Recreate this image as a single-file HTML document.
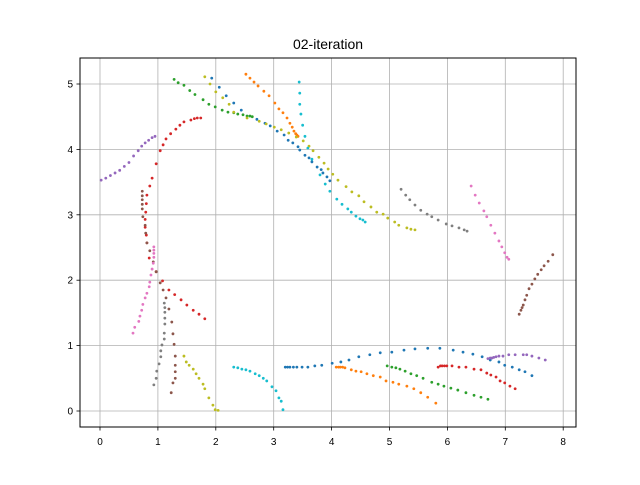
<!DOCTYPE html>
<html><head><meta charset="utf-8"><style>
body{margin:0;background:#fff;}
svg text{font-family:"Liberation Sans","DejaVu Sans",sans-serif;}
</style></head><body>
<svg id="chart" width="640" height="480" xmlns="http://www.w3.org/2000/svg">
<rect width="640" height="480" fill="#fff"/>
<text x="328" y="49" font-size="14" text-anchor="middle">02-iteration</text>
<g id="grid"></g>
<g id="marks"></g>
<rect x="80" y="58" width="496" height="369" fill="none" stroke="#000" stroke-width="1"/>
<g id="ticks"></g>
</svg>
<script>
const xTicks=[0,1,2,3,4,5,6,7,8];
const yTicks=[0,1,2,3,4,5];
const colors=["#1f77b4","#ff7f0e","#2ca02c","#d62728","#9467bd","#8c564b","#e377c2","#7f7f7f","#bcbd22","#17becf"];
const tPurpleTop=[[0.02,3.53],[0.1,3.56],[0.18,3.6],[0.26,3.64],[0.34,3.68],[0.42,3.74],[0.5,3.8],[0.58,3.9],[0.66,3.98],[0.72,4.05],[0.78,4.1],[0.84,4.14],[0.9,4.18],[0.95,4.2]];
const tRedArc=[[1.81,1.41],[1.71,1.48],[1.61,1.54],[1.50,1.62],[1.40,1.70],[1.29,1.78],[1.19,1.85],[1.08,1.99],[0.97,2.13],[0.85,2.34],[0.81,2.57],[0.80,2.69],[0.78,2.81],[0.78,2.93],[0.79,3.04],[0.80,3.17],[0.81,3.30],[0.86,3.44],[0.90,3.56],[0.97,3.78],[1.04,3.98],[1.09,4.07],[1.14,4.16],[1.22,4.24],[1.31,4.31],[1.38,4.37],[1.45,4.42],[1.57,4.45],[1.63,4.47],[1.68,4.48],[1.74,4.48]];
const tBrownLeft=[[0.73,3.36],[0.73,3.29],[0.73,3.23],[0.73,3.16],[0.73,3.09],[0.74,2.97],[0.78,2.84],[0.79,2.72],[0.81,2.57],[0.86,2.45],[0.92,2.28],[0.97,2.13],[1.04,1.96],[1.09,1.85],[1.14,1.73],[1.19,1.56],[1.24,1.36],[1.26,1.18],[1.28,1.02],[1.30,0.84],[1.30,0.70],[1.30,0.60],[1.30,0.50],[1.26,0.43],[1.23,0.28]];
const tPinkLeft=[[0.57,1.19],[0.60,1.28],[0.67,1.37],[0.69,1.45],[0.72,1.54],[0.74,1.63],[0.78,1.73],[0.81,1.80],[0.85,1.90],[0.86,1.97],[0.88,2.08],[0.90,2.17],[0.92,2.26],[0.93,2.35],[0.93,2.41],[0.93,2.46],[0.93,2.51]];
const tGrayLeft=[[1.11,1.65],[1.12,1.58],[1.12,1.51],[1.12,1.42],[1.12,1.33],[1.11,1.19],[1.11,1.10],[1.07,1.01],[1.05,0.92],[1.05,0.83],[1.02,0.72],[0.98,0.61],[0.97,0.50],[0.93,0.40]];
const tOliveBottom=[[1.45,0.84],[1.49,0.75],[1.54,0.70],[1.61,0.64],[1.66,0.57],[1.71,0.50],[1.78,0.41],[1.81,0.34],[1.88,0.20],[1.95,0.09],[1.99,0.02],[2.04,0.01]];
const tCyanBottom=[[2.31,0.67],[2.38,0.66],[2.45,0.64],[2.52,0.63],[2.59,0.61],[2.68,0.57],[2.75,0.54],[2.82,0.50],[2.88,0.46],[2.97,0.37],[3.04,0.31],[3.09,0.20],[3.13,0.15],[3.16,0.02]];
const tBlueBottom=[[3.20,0.67],[3.24,0.67],[3.28,0.67],[3.34,0.67],[3.40,0.67],[3.49,0.67],[3.59,0.67],[3.71,0.69],[3.83,0.70],[4.01,0.73],[4.16,0.75],[4.30,0.78],[4.47,0.83],[4.66,0.86],[4.84,0.89],[5.04,0.90],[5.25,0.93],[5.44,0.95],[5.66,0.96],[5.87,0.96],[6.10,0.93],[6.27,0.90],[6.44,0.87],[6.60,0.83],[6.74,0.78],[6.89,0.75],[6.99,0.70],[7.12,0.67],[7.24,0.63],[7.34,0.60],[7.46,0.54]];
const tOrangeBottom=[[4.08,0.67],[4.12,0.67],[4.15,0.67],[4.19,0.67],[4.23,0.66],[4.34,0.63],[4.42,0.61],[4.51,0.60],[4.61,0.57],[4.72,0.54],[4.84,0.52],[4.94,0.46],[5.06,0.44],[5.16,0.41],[5.30,0.38],[5.42,0.34],[5.54,0.28],[5.66,0.21],[5.80,0.12]];
const tGreenBottom=[[4.96,0.69],[5.04,0.67],[5.11,0.66],[5.18,0.64],[5.27,0.61],[5.37,0.57],[5.47,0.54],[5.58,0.50],[5.73,0.44],[5.84,0.41],[5.94,0.38],[6.06,0.35],[6.18,0.32],[6.32,0.28],[6.46,0.24],[6.58,0.21],[6.70,0.18]];
const tRedBottom=[[5.84,0.67],[5.88,0.69],[5.91,0.69],[5.95,0.69],[5.99,0.69],[6.08,0.69],[6.20,0.67],[6.32,0.67],[6.46,0.64],[6.58,0.63],[6.68,0.58],[6.75,0.55],[6.84,0.52],[6.91,0.46],[6.99,0.43],[7.08,0.38],[7.17,0.34]];
const tPurpleBottom=[[6.70,0.80],[6.74,0.81],[6.77,0.81],[6.80,0.82],[6.84,0.83],[6.89,0.84],[6.96,0.84],[7.06,0.86],[7.17,0.86],[7.31,0.86],[7.37,0.86],[7.46,0.84],[7.58,0.81],[7.69,0.78]];
const tBrownRight=[[7.24,1.48],[7.27,1.54],[7.29,1.58],[7.31,1.62],[7.34,1.70],[7.37,1.77],[7.41,1.87],[7.46,1.94],[7.51,2.02],[7.56,2.09],[7.62,2.16],[7.67,2.22],[7.74,2.29],[7.82,2.39]];
const tPinkRight=[[6.41,3.44],[6.48,3.30],[6.55,3.18],[6.63,3.06],[6.68,2.97],[6.75,2.84],[6.82,2.72],[6.89,2.60],[6.94,2.51],[6.99,2.42],[7.03,2.35],[7.06,2.32]];
const tGrayRight=[[5.20,3.39],[5.28,3.30],[5.35,3.23],[5.44,3.15],[5.54,3.07],[5.65,3.01],[5.73,2.97],[5.84,2.92],[5.98,2.86],[6.08,2.83],[6.20,2.80],[6.29,2.77],[6.34,2.75]];
const tOliveLong=[[1.81,5.11],[1.90,5.00],[2.00,4.88],[2.12,4.79],[2.23,4.69],[2.31,4.57],[2.54,4.48],[2.75,4.43],[2.87,4.39],[3.01,4.34],[3.13,4.30],[3.26,4.25],[3.39,4.19],[3.51,4.13],[3.61,4.05],[3.68,3.98],[3.78,3.88],[3.87,3.79],[3.94,3.70],[4.02,3.62],[4.11,3.53],[4.25,3.43],[4.35,3.35],[4.47,3.29],[4.56,3.20],[4.68,3.12],[4.78,3.04],[4.89,3.01],[4.97,2.95],[5.09,2.89],[5.16,2.84],[5.30,2.80],[5.37,2.78],[5.44,2.77]];
const tBlueDiag=[[1.93,5.09],[2.06,4.95],[2.18,4.82],[2.31,4.71],[2.44,4.60],[2.71,4.46],[2.85,4.40],[2.94,4.36],[3.06,4.28],[3.18,4.22],[3.25,4.14],[3.33,4.10],[3.42,4.04],[3.45,3.99],[3.54,3.91],[3.61,3.87],[3.66,3.81],[3.75,3.73],[3.82,3.69],[3.85,3.64],[3.92,3.58],[3.97,3.52]];
const tGreenTop=[[1.28,5.07],[1.35,5.02],[1.45,4.98],[1.55,4.90],[1.64,4.84],[1.78,4.76],[1.88,4.69],[1.99,4.65],[2.11,4.60],[2.21,4.57],[2.31,4.56],[2.38,4.54],[2.47,4.53],[2.54,4.51],[2.59,4.51],[2.63,4.50]];
const tOrangeTop=[[2.52,5.15],[2.59,5.09],[2.66,5.03],[2.73,4.97],[2.83,4.89],[2.92,4.82],[3.02,4.71],[3.09,4.62],[3.16,4.56],[3.23,4.48],[3.28,4.40],[3.32,4.34],[3.35,4.28],[3.38,4.24],[3.40,4.22],[3.42,4.20]];
const tCyanTop=[[3.44,5.03],[3.45,4.86],[3.45,4.69],[3.47,4.54],[3.50,4.37],[3.54,4.20],[3.59,4.02],[3.66,3.85],[3.80,3.61],[3.89,3.47],[3.97,3.36],[4.09,3.24],[4.18,3.16],[4.28,3.09],[4.34,3.04],[4.42,2.98],[4.49,2.94],[4.54,2.92],[4.58,2.89]];

const X0=100,XS=57.9,Y0=411,YS=65.4;
function sx(v){return X0+v*XS;}
function sy(v){return Y0-v*YS;}
const NS="http://www.w3.org/2000/svg";
const grid=document.getElementById('grid'),ticks=document.getElementById('ticks'),marks=document.getElementById('marks');
function mk(tag,attrs,parent){const e=document.createElementNS(NS,tag);for(const k in attrs)e.setAttribute(k,attrs[k]);parent.appendChild(e);return e;}
xTicks.forEach(t=>{
  const l=mk('line',{x1:sx(t),x2:sx(t),y1:58,y2:427,stroke:'#b0b0b0','stroke-width':0.8},grid);
  
  
  const tk=mk('line',{x1:sx(t),x2:sx(t),y1:427,y2:430.5,stroke:'#000','stroke-width':0.8},ticks);
  
  
  const tx=mk('text',{x:sx(t),y:445,'font-size':10,'text-anchor':'middle'},ticks);
  tx.textContent=t;
  
  
});
yTicks.forEach(t=>{
  const l=mk('line',{x1:80,x2:576,y1:sy(t),y2:sy(t),stroke:'#b0b0b0','stroke-width':0.8},grid);
  
  
  const tk=mk('line',{x1:76.5,x2:80,y1:sy(t),y2:sy(t),stroke:'#000','stroke-width':0.8},ticks);
  
  
  const tx=mk('text',{x:73,y:sy(t)+3.5,'font-size':10,'text-anchor':'end'},ticks);
  tx.textContent=t;
  
  
});
const tracks=[[tBlueDiag,0],[tOrangeTop,1],[tGreenTop,2],[tRedArc,3],[tPurpleTop,4],[tBrownLeft,5],[tPinkLeft,6],[tGrayLeft,7],[tOliveLong,8],[tCyanTop,9],
[tBlueBottom,0],[tOrangeBottom,1],[tGreenBottom,2],[tRedBottom,3],[tPurpleBottom,4],[tBrownRight,5],[tPinkRight,6],[tGrayRight,7],[tOliveBottom,8],[tCyanBottom,9]];
tracks.forEach(([pts,ci])=>{
  const g=mk('g',{fill:colors[ci]},marks);
  
  
  pts.forEach(p=>{
    const c=mk('circle',{cx:sx(p[0]),cy:sy(p[1]),r:1.4},g);
    
    
  });
});
</script>
</body></html>
